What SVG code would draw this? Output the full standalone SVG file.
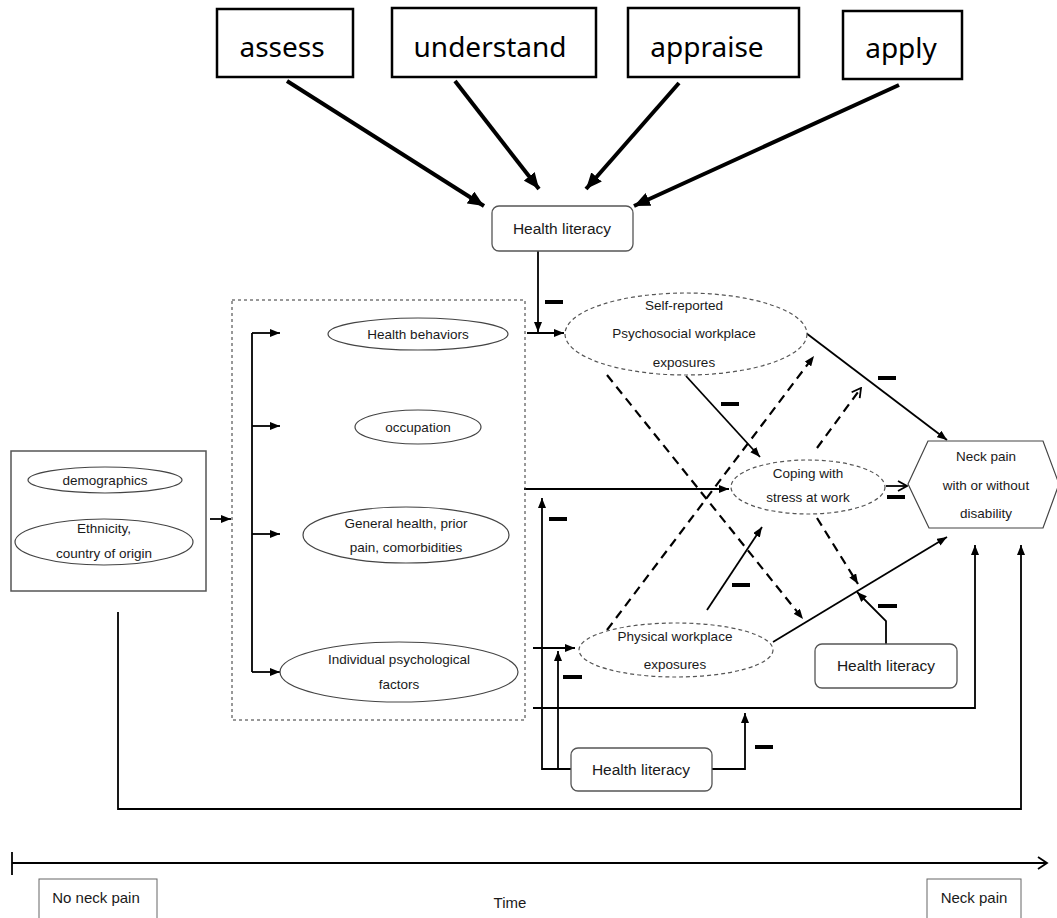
<svg xmlns="http://www.w3.org/2000/svg" width="1057" height="918" viewBox="0 0 1057 918">
<style>
.top{fill:#fff;stroke:#000;stroke-width:2.5}
.toptxt{font-family:"Noto Sans","Liberation Sans",sans-serif;font-size:28px;fill:#000;text-anchor:middle}
.hl{fill:#fff;stroke:#555;stroke-width:1.3}
.hltxt{font-family:"Liberation Sans",Arial,sans-serif;font-size:15.5px;fill:#1a1a1a;text-anchor:middle}
.el{fill:#fff;stroke:#444;stroke-width:1.2}
.del{fill:#fff;stroke:#555;stroke-width:1.2;stroke-dasharray:4,3}
.t{font-family:"Liberation Sans",Arial,sans-serif;font-size:13.5px;fill:#1a1a1a;text-anchor:middle}
.tl{font-family:"Liberation Sans",Arial,sans-serif;font-size:15px;fill:#1a1a1a;text-anchor:middle}
.big{fill:none;stroke:#000;stroke-width:4;marker-end:url(#big)}
.ln{fill:none;stroke:#000;stroke-width:1.8}
.ar{fill:none;stroke:#000;stroke-width:1.8;marker-end:url(#sm)}
.da{fill:none;stroke:#000;stroke-width:2.2;stroke-dasharray:9,6;marker-end:url(#sm)}
.dao{fill:none;stroke:#000;stroke-width:2.2;stroke-dasharray:9,6;marker-end:url(#open)}
.ao{fill:none;stroke:#000;stroke-width:1.8;marker-end:url(#open)}
.minus{fill:#000}
</style>
<defs>
<marker id="big" viewBox="0 0 16 14" refX="16" refY="7" markerWidth="16" markerHeight="14" orient="auto" markerUnits="userSpaceOnUse"><path d="M0,0 L16,7 L0,14 z" fill="#000"/></marker>
<marker id="sm" viewBox="0 0 10 8" refX="10" refY="4" markerWidth="10" markerHeight="8" orient="auto" markerUnits="userSpaceOnUse"><path d="M0,0 L10,4 L0,8 z" fill="#000"/></marker>
<marker id="open" viewBox="0 0 12 12" refX="11" refY="6" markerWidth="12" markerHeight="12" orient="auto" markerUnits="userSpaceOnUse"><path d="M2,1 L11,6 L2,11" fill="none" stroke="#000" stroke-width="1.8"/></marker>
</defs>
<rect width="1057" height="918" fill="#fff"/>

<g id="connectors">
<line class="big" x1="287" y1="81" x2="484" y2="206"/>
<line class="big" x1="455" y1="81" x2="539" y2="189"/>
<line class="big" x1="679" y1="83" x2="586" y2="189"/>
<line class="big" x1="899" y1="85" x2="634" y2="206"/>
<path class="ar" d="M538,251 V332"/>
<path class="ar" d="M527,333 H564"/>
<path class="ar" d="M210,519 H231"/>
<path class="ln" d="M252,333 V672" stroke-width="2"/>
<path class="ar" d="M252,333 H280"/>
<path class="ar" d="M252,426 H280"/>
<path class="ar" d="M252,534 H280"/>
<path class="ar" d="M252,672 H280"/>
<path class="ar" d="M524,489 H729"/>
<path class="ar" d="M533,648 H575"/>
<path class="ar" d="M533,708 H975 V545"/>
<path class="ar" d="M118,612 V809 H1021 V545"/>
<path class="ar" d="M571,769 H542 V498"/>
<path class="ar" d="M558,769 V651"/>
<path class="ar" d="M712,769 H745 V713"/>
<path class="ar" d="M806,333 L947,440"/>
<path class="ar" d="M686,376 L760,457"/>
<path class="ar" d="M707,610 L762,527"/>
<path class="ar" d="M773,642 L947,537"/>
<path class="ar" d="M886,644 V621 L857,592"/>
<path class="ao" d="M886,486 H907"/>
<path class="da" d="M607,375 L803,619"/>
<path class="da" d="M607,630 L814,356"/>
<path class="dao" d="M817,448 L861,388"/>
<path class="da" d="M817,518 L858,584"/>
<path class="ln" d="M12,863 H1046"/>
<path class="ln" d="M12,852 V875"/>
<path d="M1038,857 L1047,863 L1038,869" fill="none" stroke="#000" stroke-width="1.8"/>
</g>

<g id="minus-signs">
<rect class="minus" x="545" y="300" width="18" height="4"/>
<rect class="minus" x="721" y="402" width="18" height="4"/>
<rect class="minus" x="878" y="376" width="18" height="4"/>
<rect class="minus" x="887" y="495" width="18" height="4"/>
<rect class="minus" x="549" y="517" width="18" height="4"/>
<rect class="minus" x="732" y="583" width="18" height="4"/>
<rect class="minus" x="878" y="604" width="19" height="4"/>
<rect class="minus" x="563" y="675" width="19" height="4"/>
<rect class="minus" x="755" y="745" width="18" height="4"/>
</g>

<g id="assess"><rect class="top" x="217" y="9" width="136" height="68"/><text class="toptxt" x="282" y="57">assess</text></g>
<g id="understand"><rect class="top" x="392" y="8" width="204" height="69"/><text class="toptxt" x="490" y="57">understand</text></g>
<g id="appraise"><rect class="top" x="628" y="8" width="171" height="69"/><text class="toptxt" x="707" y="57">appraise</text></g>
<g id="apply"><rect class="top" x="843" y="11" width="119" height="68"/><text class="toptxt" x="901" y="58">apply</text></g>

<g id="health-literacy-top"><rect class="hl" x="492" y="206" width="141" height="45" rx="7"/><text class="hltxt" x="562" y="234">Health literacy</text></g>

<g id="left-box">
<rect x="11" y="451" width="195" height="140" fill="#fff" stroke="#555" stroke-width="1.5"/>
<g id="demographics"><ellipse class="el" cx="105" cy="480" rx="77" ry="13"/><text class="t" x="105" y="485">demographics</text></g>
<g id="ethnicity"><ellipse class="el" cx="104" cy="542" rx="89" ry="23"/><text class="t" x="104" y="533">Ethnicity,</text><text class="t" x="104" y="558">country of origin</text></g>
</g>

<g id="individual-factors-box"><rect x="232" y="300" width="293" height="420" fill="none" stroke="#333" stroke-width="1" stroke-dasharray="3,3"/></g>
<g id="health-behaviors"><ellipse class="el" cx="418" cy="334" rx="90" ry="16"/><text class="t" x="418" y="339">Health behaviors</text></g>
<g id="occupation"><ellipse class="el" cx="418" cy="427" rx="63" ry="17"/><text class="t" x="418" y="432">occupation</text></g>
<g id="general-health"><ellipse class="el" cx="406" cy="535" rx="103" ry="28"/><text class="t" x="406" y="528">General health, prior</text><text class="t" x="406" y="552">pain, comorbidities</text></g>
<g id="individual-psych"><ellipse class="el" cx="399" cy="672" rx="119" ry="30"/><text class="t" x="399" y="664">Individual psychological</text><text class="t" x="399" y="689">factors</text></g>

<g id="self-reported"><ellipse class="del" cx="686" cy="334" rx="121" ry="41"/><text class="t" x="684" y="310">Self-reported</text><text class="t" x="684" y="338">Psychosocial workplace</text><text class="t" x="684" y="367">exposures</text></g>
<g id="coping"><ellipse class="del" cx="808" cy="487" rx="77" ry="27"/><text class="t" x="808" y="478">Coping with</text><text class="t" x="808" y="502">stress at work</text></g>
<g id="physical"><ellipse class="del" cx="676" cy="650" rx="97" ry="27"/><text class="t" x="675" y="641">Physical workplace</text><text class="t" x="675" y="669">exposures</text></g>

<g id="neck-pain"><polygon points="928,441 1043,441 1059,484 1043,528 929,528 908,484" fill="#fff" stroke="#444" stroke-width="1.2"/><text class="t" x="986" y="461">Neck pain</text><text class="t" x="986" y="490">with or without</text><text class="t" x="986" y="518">disability</text></g>

<g id="health-literacy-right"><rect class="hl" x="815" y="644" width="142" height="44" rx="7"/><text class="hltxt" x="886" y="671">Health literacy</text></g>
<g id="health-literacy-bottom"><rect class="hl" x="571" y="748" width="141" height="43" rx="7"/><text class="hltxt" x="641" y="775">Health literacy</text></g>

<g id="no-neck-pain"><rect x="39" y="879" width="118" height="45" fill="#fff" stroke="#666" stroke-width="1"/><text class="tl" x="96" y="903">No neck pain</text></g>
<g id="time"><text class="tl" x="510" y="908">Time</text></g>
<g id="neck-pain-end"><rect x="927" y="879" width="94" height="45" fill="#fff" stroke="#666" stroke-width="1"/><text class="tl" x="974" y="903">Neck pain</text></g>
</svg>
